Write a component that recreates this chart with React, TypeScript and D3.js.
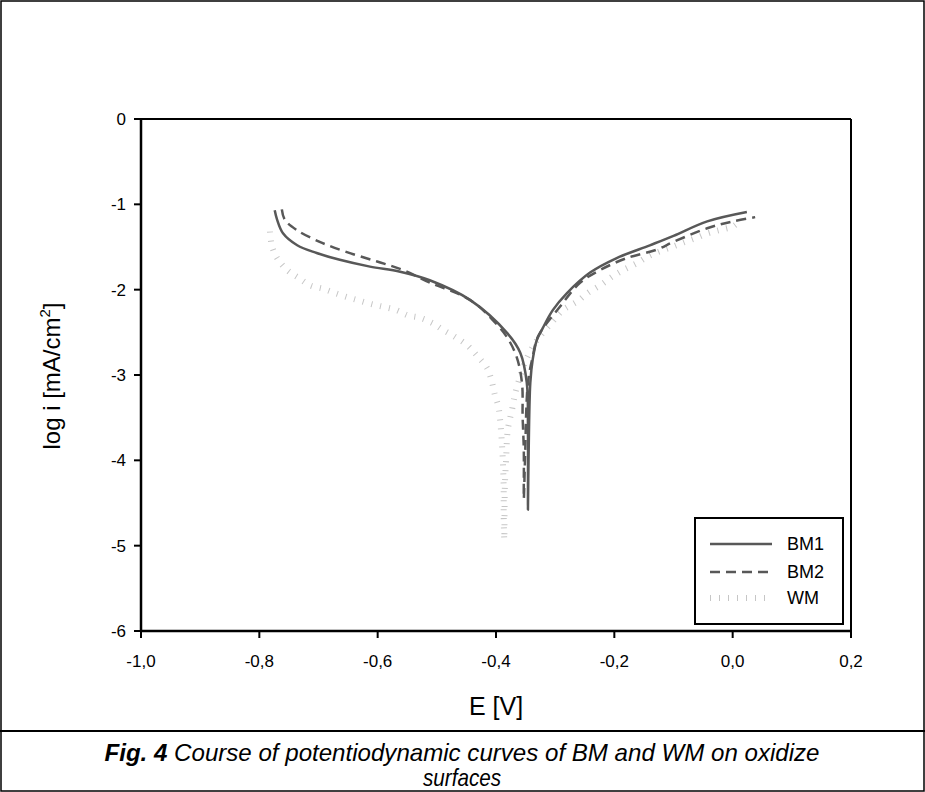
import * as d3 from 'd3';

// axis ticks
const xTicks = [-1.0, -0.8, -0.6, -0.4, -0.2, 0.0, 0.2];
const xTickLabels = ['-1,0', '-0,8', '-0,6', '-0,4', '-0,2', '0,0', '0,2'];
const yTicks = [0, -1, -2, -3, -4, -5, -6];

// BM1 (solid) — cathodic branch down to Ecorr, then anodic branch
const bm1E = [-0.774, -0.77, -0.76, -0.736, -0.703, -0.664, -0.613, -0.562, -0.512, -0.444, -0.381, -0.359, -0.348, -0.346, -0.346,
  -0.345, -0.342, -0.338, -0.331, -0.321, -0.304, -0.28, -0.241, -0.196, -0.14, -0.1, -0.043, 0.024];
const bm1LogI = [-1.07, -1.18, -1.34, -1.48, -1.57, -1.65, -1.73, -1.79, -1.89, -2.12, -2.51, -2.74, -3.09, -3.68, -4.58,
  -4.0, -3.09, -2.82, -2.59, -2.45, -2.24, -2.04, -1.8, -1.63, -1.48, -1.37, -1.2, -1.09];

// BM2 (dashed)
const bm2E = [-0.762, -0.757, -0.737, -0.698, -0.652, -0.601, -0.557, -0.511, -0.46, -0.432, -0.405, -0.382, -0.365, -0.356, -0.355, -0.353, -0.353,
  -0.351, -0.346, -0.338, -0.329, -0.292, -0.258, -0.224, -0.179, -0.128, -0.1, -0.043, 0.0, 0.038];
const bm2LogI = [-1.06, -1.18, -1.3, -1.44, -1.56, -1.67, -1.77, -1.92, -2.06, -2.18, -2.36, -2.55, -2.79, -3.1, -3.49, -3.88, -4.45,
  -4.0, -3.09, -2.79, -2.55, -2.2, -1.92, -1.77, -1.63, -1.53, -1.44, -1.28, -1.2, -1.15];

// WM (light marker line)
const wmE = [-0.782, -0.779, -0.77, -0.753, -0.734, -0.714, -0.692, -0.672, -0.65, -0.63, -0.61, -0.591, -0.568, -0.549, -0.528,
  -0.508, -0.49, -0.47, -0.449, -0.43, -0.415, -0.407, -0.402, -0.396, -0.393, -0.39, -0.388, -0.387, -0.387, -0.386,
  -0.385, -0.383, -0.38, -0.373, -0.368, -0.361, -0.351, -0.338, -0.326, -0.305, -0.287, -0.263, -0.245, -0.224, -0.204,
  -0.185, -0.162, -0.143, -0.123, -0.103, -0.084, -0.064, -0.042, -0.021, 0.0, 0.008];
const wmLogI = [-1.32, -1.48, -1.63, -1.77, -1.86, -1.95, -1.99, -2.04, -2.09, -2.13, -2.17, -2.2, -2.24, -2.3, -2.33,
  -2.39, -2.47, -2.55, -2.65, -2.79, -2.92, -3.08, -3.23, -3.37, -3.53, -3.8, -4.08, -4.35, -4.62, -4.93,
  -4.3, -4.0, -3.64, -3.41, -3.23, -3.06, -2.85, -2.67, -2.55, -2.38, -2.24, -2.14, -2.04, -1.95, -1.85,
  -1.77, -1.69, -1.61, -1.55, -1.5, -1.45, -1.4, -1.34, -1.3, -1.26, -1.22];

const seriesNames = ['BM1', 'BM2', 'WM'];

const W = 925, H = 792;
const plot = { left: 141, right: 851, top: 119, bottom: 631 };
const FONT = 'Arial, "Liberation Sans", sans-serif';
const NARROW = '"Liberation Sans Narrow", "Arial Narrow", Arial, "Liberation Sans", sans-serif';

const styles = [
  { stroke: '#585858', width: 2.5, dash: undefined as string | undefined },
  { stroke: '#585858', width: 2.5, dash: '10 6' },
  { stroke: '#c6c6c6', width: 6, dash: '1 8' },
];

export default function App() {
  const x = d3.scaleLinear().domain([-1.0, 0.2]).range([plot.left, plot.right]);
  const y = d3.scaleLinear().domain([-6, 0]).range([plot.bottom, plot.top]);

  const line = d3.line<[number, number]>()
    .x(d => x(d[0])).y(d => y(d[1]))
    .curve(d3.curveCatmullRom.alpha(0.5));

  const series = [
    d3.zip(bm1E, bm1LogI) as [number, number][],
    d3.zip(bm2E, bm2LogI) as [number, number][],
    d3.zip(wmE, wmLogI) as [number, number][],
  ];

  const legend = { x: 695, y: 518, w: 148, h: 106 };
  const legendRows = [544, 572, 598];

  return (
    <svg width={W} height={H} style={{ position: 'absolute', left: 0, top: 0, background: '#fff' }}>
      <rect x={1} y={1} width={W - 2} height={H - 2} fill="#fff" stroke="#000" strokeWidth={1.5} />
      <line x1={0} x2={W} y1={731} y2={731} stroke="#000" strokeWidth={2} />

      {/* curves, WM underneath */}
      {series.map((pts, i) => (
        <path key={seriesNames[i]} d={line(pts) || ''} fill="none"
          stroke={styles[i].stroke} strokeWidth={styles[i].width}
          strokeDasharray={styles[i].dash} strokeLinejoin="round" />
      )).reverse()}

      {/* frame */}
      <line x1={plot.left} x2={plot.right} y1={plot.top} y2={plot.top} stroke="#000" strokeWidth={2} />
      <line x1={plot.right} x2={plot.right} y1={plot.top} y2={plot.bottom} stroke="#000" strokeWidth={2} />
      <line x1={plot.left} x2={plot.left} y1={plot.top - 1} y2={plot.bottom + 1} stroke="#000" strokeWidth={2.5} />
      <line x1={plot.left - 1} x2={plot.right + 1} y1={plot.bottom} y2={plot.bottom} stroke="#000" strokeWidth={2.5} />

      {/* y axis */}
      {yTicks.map(t => (
        <g key={t}>
          <line x1={plot.left - 7} x2={plot.left} y1={y(t)} y2={y(t)} stroke="#000" strokeWidth={2} />
          <text x={plot.left - 15} y={y(t)} dy="0.35em" textAnchor="end" fontFamily={FONT} fontSize={17}>{t}</text>
        </g>
      ))}

      {/* x axis */}
      {xTicks.map((t, i) => (
        <g key={t}>
          <line x1={x(t)} x2={x(t)} y1={plot.bottom} y2={plot.bottom + 7} stroke="#000" strokeWidth={2} />
          <text x={x(t)} y={667} textAnchor="middle" fontFamily={FONT} fontSize={17}>{xTickLabels[i]}</text>
        </g>
      ))}

      {/* axis titles */}
      <text transform="translate(60,376) rotate(-90)" textAnchor="middle" fontFamily={FONT} fontSize={24}>
        log i [mA/cm<tspan fontSize={15} dy={-10}>2</tspan><tspan dy={10}>]</tspan>
      </text>
      <text x={(plot.left + plot.right) / 2} y={715} textAnchor="middle" fontFamily={FONT} fontSize={25}>E [V]</text>

      {/* legend */}
      <rect x={legend.x} y={legend.y} width={legend.w} height={legend.h} fill="#fff" stroke="#000" strokeWidth={2} />
      {seriesNames.map((name, i) => (
        <g key={name}>
          <line x1={710} x2={772} y1={legendRows[i]} y2={legendRows[i]}
            stroke={styles[i].stroke} strokeWidth={styles[i].width} strokeDasharray={styles[i].dash} />
          <text x={787} y={legendRows[i]} dy="0.35em" fontFamily={FONT} fontSize={18}>{name}</text>
        </g>
      ))}

      {/* caption */}
      <text x={462} y={761} textAnchor="middle" fontFamily={NARROW} fontSize={24} fontStyle="italic"
        textLength={715} lengthAdjust="spacingAndGlyphs">
        <tspan fontWeight="bold">Fig. 4</tspan> Course of potentiodynamic curves of BM and WM on oxidize
      </text>
      <text x={462} y={786} textAnchor="middle" fontFamily={NARROW} fontSize={24} fontStyle="italic"
        textLength={78} lengthAdjust="spacingAndGlyphs">surfaces</text>
    </svg>
  );
}
